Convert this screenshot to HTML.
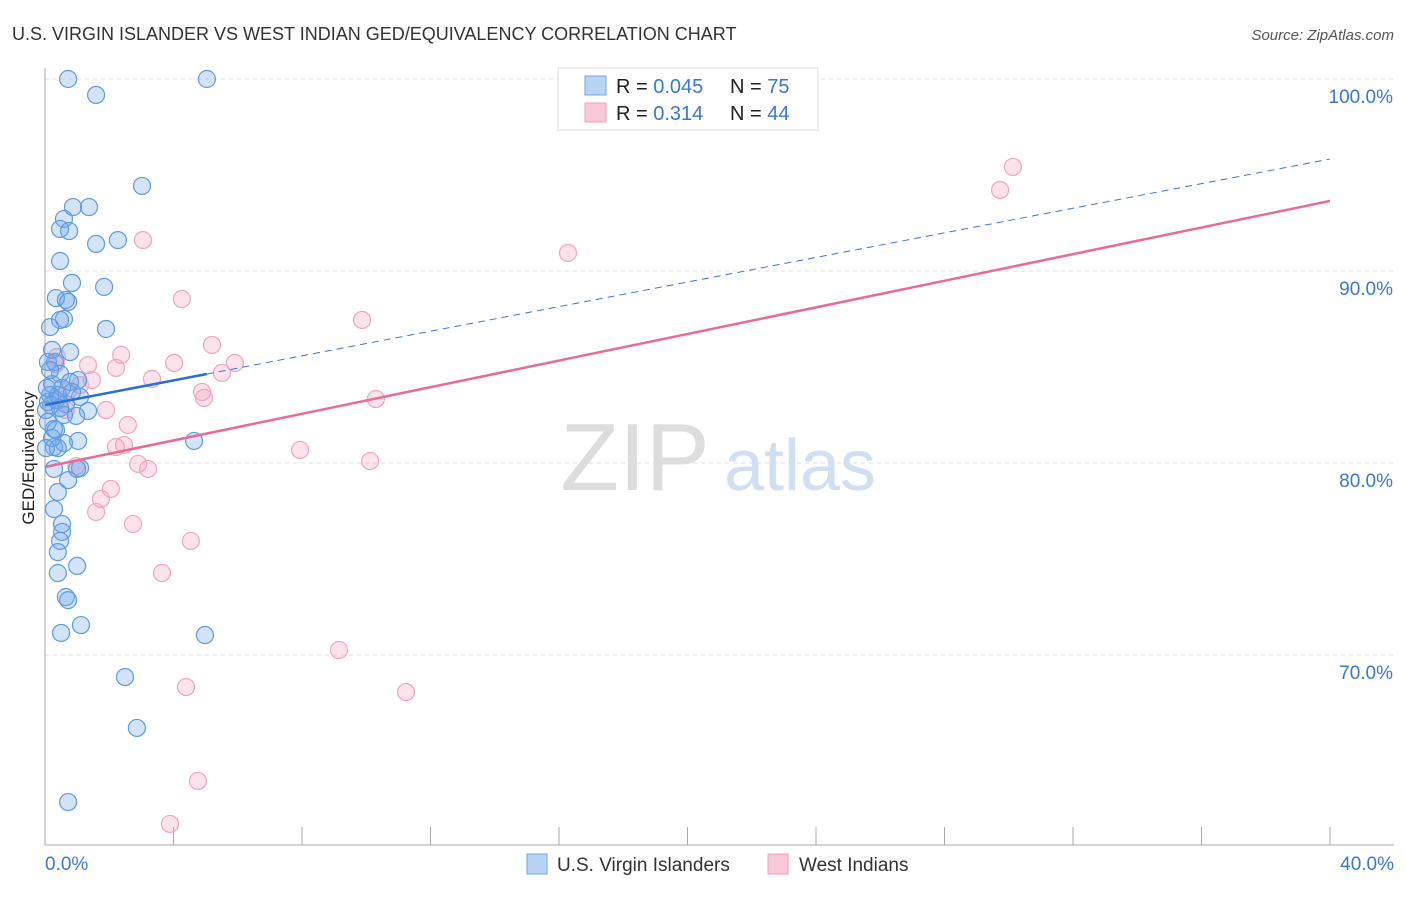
<!DOCTYPE html>
<html><head><meta charset="utf-8"><style>
body{margin:0;background:#fff;font-family:"Liberation Sans",sans-serif;}
svg text{font-family:"Liberation Sans",sans-serif;}
</style></head><body>
<svg id="chart" width="1406" height="892">
<text x="12" y="40" font-size="18" fill="#333">U.S. VIRGIN ISLANDER VS WEST INDIAN GED/EQUIVALENCY CORRELATION CHART</text>
<text x="1394" y="40" font-size="15" fill="#555" text-anchor="end" font-style="italic">Source: ZipAtlas.com</text>
<text x="34" y="458" font-size="17" fill="#222" text-anchor="middle" transform="rotate(-90 34 458)">GED/Equivalency</text>
<g id="grid"></g>
<g id="wm"><text x="635" y="490" font-size="96" fill="#ddd" font-family="Liberation Serif" text-anchor="middle">ZIP</text><text x="800" y="490" font-size="72" fill="#cfe0f3" text-anchor="middle">atlas</text></g>
<g id="marks"></g>
<g id="trends"></g>
<g>
<rect x="558" y="68" width="260" height="62" fill="#fff" stroke="#ddd"/>
<rect x="585" y="76" width="21" height="19" fill="#b8d4f5" stroke="#6fa3e0"/>
<rect x="585" y="103" width="21" height="19" fill="#fac8d8" stroke="#f0a0b8"/>
<text x="616" y="93" font-size="20" fill="#222">R = <tspan fill="#3a78d8">0.045</tspan></text>
<text x="730" y="93" font-size="20" fill="#222">N = <tspan fill="#3a78d8"> 75</tspan></text>
<text x="616" y="120" font-size="20" fill="#222">R = <tspan fill="#3a78d8"> 0.314</tspan></text>
<text x="730" y="120" font-size="20" fill="#222">N = <tspan fill="#3a78d8">44</tspan></text>
</g>
<g>
<rect x="527" y="854" width="20" height="20" fill="#b8d4f5" stroke="#6fa3e0"/>
<text x="557" y="871" font-size="19" fill="#333">U.S. Virgin Islanders</text>
<rect x="768" y="854" width="20" height="20" fill="#fac8d8" stroke="#f0a0b8"/>
<text x="799" y="871" font-size="19" fill="#333">West Indians</text>
</g>
</svg>
<script>
const yTicks=[100,90,80,70];
const xTickLabels=["0.0%","40.0%"];
const blueX=[0.72,5.04,1.59,3.02,1.37,0.87,0.59,0.47,0.75,2.27,1.59,0.47,0.84,1.84,0.34,0.65,0.72,0.59,0.47,1.9,0.16,0.22,0.78,0.09,0.31,0.47,1.03,0.22,0.78,0.53,1.09,0.34,0.09,0.19,0.65,1.34,0.97,0.28,1.03,0.59,4.64,0.28,0.4,1.09,1.0,0.28,0.72,0.4,0.28,0.53,0.53,0.47,0.4,1.0,0.4,0.65,0.72,1.12,0.5,4.98,2.49,2.86,0.72,0.16,0.09,0.03,0.22,0.16,0.4,0.59,0.84,0.06,0.47,0.34,0.03];
const blueY=[100,100,99.17,94.43,93.33,93.33,92.71,92.19,92.08,91.61,91.41,90.52,89.38,89.17,88.59,88.49,88.39,87.5,87.45,86.98,87.08,85.89,85.78,85.26,85.26,84.64,84.32,84.11,84.22,83.91,83.44,83.28,83.18,83.02,83.07,82.71,82.45,81.77,81.15,81.04,81.15,80.83,80.78,79.74,79.69,79.69,79.11,78.49,77.6,76.82,76.41,75.94,75.36,74.64,74.27,73.02,72.86,71.56,71.15,71.04,68.85,66.2,62.34,83.54,82.14,82.76,81.3,84.84,83.54,82.5,83.7,83.91,82.86,81.72,80.78];
const pinkX=[30.13,29.73,3.05,16.28,4.26,9.87,5.2,2.37,0.37,1.34,4.02,5.91,2.21,1.46,5.51,3.33,1.09,0.72,4.89,4.95,10.3,0.65,1.9,2.58,2.21,2.46,7.94,2.9,3.21,10.12,0.97,2.05,1.74,1.59,2.74,4.54,3.64,9.15,4.39,11.24,4.76,3.89,0.34,0.47];
const pinkY=[95.42,94.22,91.61,90.94,88.54,87.45,86.15,85.63,85.52,85.1,85.21,85.21,84.95,84.32,84.69,84.38,84.06,83.75,83.7,83.39,83.33,82.76,82.76,81.98,80.83,80.94,80.68,79.95,79.69,80.1,79.84,78.65,78.13,77.45,76.82,75.94,74.27,70.26,68.33,68.07,63.44,61.2,85.16,83.28];
const blueTrend=[83.02,95.83]; // value at x=0 and x=40
const pinkTrend=[79.79,93.65];
const blueSolidEnd=5.04;

const NS="http://www.w3.org/2000/svg";
const X=v=>45+v/40*1285;
const Y=v=>79+(100-v)*19.2;
function mk(tag,attrs,parent){const e=document.createElementNS(NS,tag);for(const k in attrs)e.setAttribute(k,attrs[k]);parent.appendChild(e);return e;}
const grid=document.getElementById('grid');
yTicks.forEach(t=>{
  const l=mk('line',{x1:45,x2:1394,y1:Y(t),y2:Y(t),stroke:'#ddd','stroke-dasharray':'4 4'},grid);
  
  
  const tx=mk('text',{x:1393,y:Y(t)+24,'font-size':19,fill:'#3a78d8','text-anchor':'end'},grid);
  tx.textContent=t.toFixed(1)+'%';
  
  
});
const ax=mk('line',{x1:45,x2:45,y1:68,y2:845,stroke:'#aaa'},grid);


const bx=mk('line',{x1:45,x2:1394,y1:845,y2:845,stroke:'#aaa'},grid);


for(let i=0;i<=10;i++){const t=mk('line',{x1:X(i*4),x2:X(i*4),y1:827,y2:845,stroke:'#aaa'},grid);
  
  }
xTickLabels.forEach((s,i)=>{const t=mk('text',{x:i?1394:45,y:870,'font-size':19,fill:'#3a78d8','text-anchor':i?'end':'start'},grid);t.textContent=s;
  
  });
const marks=document.getElementById('marks');
pinkX.forEach((v,i)=>{const c=mk('circle',{cx:X(v),cy:Y(pinkY[i]),r:8.5,fill:'rgba(245,160,190,0.3)',stroke:'#f2a5bd','stroke-width':1.2},marks);
  
  });
blueX.forEach((v,i)=>{const c=mk('circle',{cx:X(v),cy:Y(blueY[i]),r:8.5,fill:'rgba(110,165,235,0.3)',stroke:'#5d9be3','stroke-width':1.2},marks);
  
  });
const tr=document.getElementById('trends');
const bt=x=>blueTrend[0]+(blueTrend[1]-blueTrend[0])*x/40;
const pt=x=>pinkTrend[0]+(pinkTrend[1]-pinkTrend[0])*x/40;
const l1=mk('line',{x1:X(0),y1:Y(pt(0)),x2:X(40),y2:Y(pt(40)),stroke:'#e86b98','stroke-width':2.5},tr);


const l2=mk('line',{x1:X(blueSolidEnd),y1:Y(bt(blueSolidEnd)),x2:X(40),y2:Y(bt(40)),stroke:'#3a78d8','stroke-width':1,'stroke-dasharray':'7 5'},tr);


const l3=mk('line',{x1:X(0),y1:Y(bt(0)),x2:X(blueSolidEnd),y2:Y(bt(blueSolidEnd)),stroke:'#2a6fd6','stroke-width':2.5},tr);


</script>
</body></html>
